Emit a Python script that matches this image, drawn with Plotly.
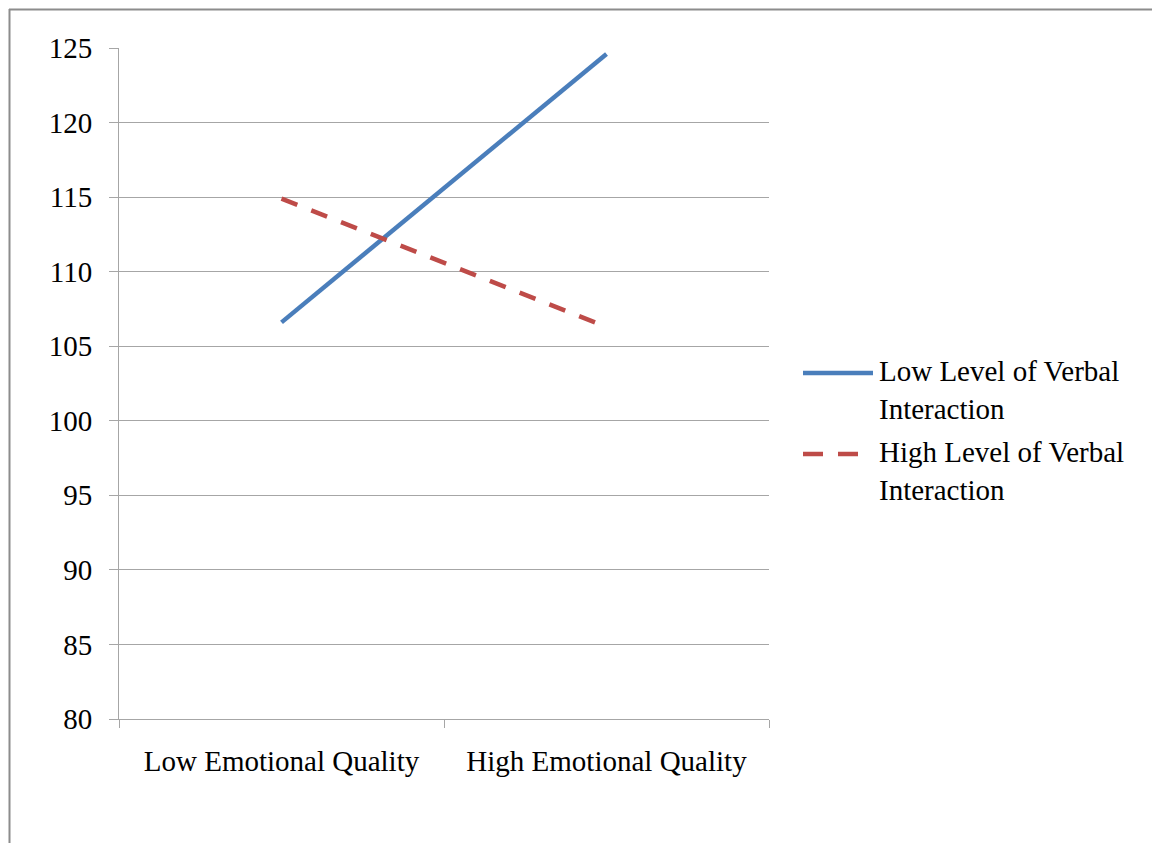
import plotly.graph_objects as go

# Category axis and series values
categories = ["Low Emotional Quality", "High Emotional Quality"]
low_verbal = [106.6, 124.6]
high_verbal = [114.9, 106.3]
series_names = ["Low Level of Verbal<br>Interaction", "High Level of Verbal<br>Interaction"]
y_ticks = [80, 85, 90, 95, 100, 105, 110, 115, 120, 125]

W, H = 1152, 843
FONT = "Liberation Serif, Times New Roman, serif"
BLUE = "#4a7ebb"
RED = "#be4b48"
GRID = "#a6a6a6"


def px_x(x):
    return x / W


def px_y(y):
    return 1 - y / H


fig = go.Figure()
fig.add_trace(go.Scatter(
    x=categories, y=low_verbal, mode="lines", name=series_names[0],
    line=dict(color=BLUE, width=4.5), showlegend=False,
))
fig.add_trace(go.Scatter(
    x=categories, y=high_verbal, mode="lines", name=series_names[1],
    line=dict(color=RED, width=4.5, dash="17px,15px"), showlegend=False,
))

# Hand-drawn legend to the right of the plot area
legend_rows = [(373, 390, BLUE, "solid", 873), (454, 471, RED, "20px,15px", 858)]
shapes = []
annotations = []
for (ly, ty, col, dash, x1), name in zip(legend_rows, series_names):
    shapes.append(dict(type="line", xref="paper", yref="paper",
                       x0=px_x(803), x1=px_x(x1), y0=px_y(ly), y1=px_y(ly),
                       line=dict(color=col, width=4.5, dash=dash)))
    annotations.append(dict(xref="paper", yref="paper", x=px_x(877), y=px_y(ty),
                            xanchor="left", yanchor="middle", align="left",
                            text=name, showarrow=False,
                            font=dict(family=FONT, size=29, color="black")))

# Outer frame (left and top edges visible)
shapes.append(dict(type="line", xref="paper", yref="paper",
                   x0=px_x(9.5), x1=px_x(9.5), y0=px_y(9), y1=px_y(H + 5),
                   line=dict(color="#8c8c8c", width=2)))
shapes.append(dict(type="line", xref="paper", yref="paper",
                   x0=px_x(9), x1=px_x(W + 5), y0=px_y(9.5), y1=px_y(9.5),
                   line=dict(color="#8c8c8c", width=2)))

fig.update_layout(
    width=W, height=H,
    margin=dict(l=0, r=0, t=0, b=0, autoexpand=False),
    paper_bgcolor="white", plot_bgcolor="white",
    font=dict(family=FONT, size=29, color="black"),
    shapes=shapes, annotations=annotations,
    xaxis=dict(
        type="category", domain=[px_x(119), px_x(769)], range=[-0.5, 1.5],
        tickson="boundaries", ticks="outside", ticklen=8, tickcolor=GRID,
        showline=True, linecolor=GRID, linewidth=1, showgrid=False,
        ticklabelstandoff=16, tickfont=dict(family=FONT, size=29),
        zeroline=False, fixedrange=True, automargin=False,
    ),
    yaxis=dict(
        domain=[px_y(719), px_y(48)], range=[80, 125],
        tickmode="array", tickvals=y_ticks, ticktext=[str(v) for v in y_ticks],
        ticks="outside", ticklen=9, tickcolor=GRID,
        showline=True, linecolor=GRID, linewidth=1,
        showgrid=True, gridcolor=GRID, gridwidth=1,
        ticklabelstandoff=11, tickfont=dict(family=FONT, size=29),
        zeroline=False, fixedrange=True, automargin=False,
    ),
)

fig.write_html("out.html")
